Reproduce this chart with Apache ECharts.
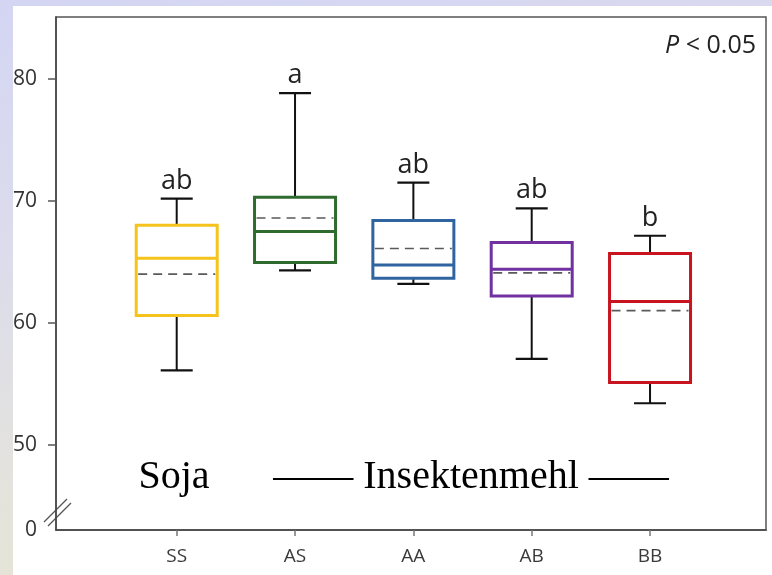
<!DOCTYPE html>
<html>
<head>
<meta charset="utf-8">
<script src="https://cdn.jsdelivr.net/npm/echarts@6/dist/echarts.min.js"></script>
<style>
  html, body { margin:0; padding:0; width:772px; height:575px; overflow:hidden; }
  #bg { position:absolute; left:0; top:0; width:772px; height:575px;
        background: linear-gradient(170deg, #d4d5f3 0%, #dcdcec 35%, #e4e3dc 70%, #e9e6cf 100%); }
  #panel { position:absolute; left:13px; top:6px; width:759px; height:569px; background:#fff; }
  #chart { position:absolute; left:0; top:0; width:772px; height:575px; }
</style>
</head>
<body>
<div id="bg"></div>
<div id="panel"></div>
<div id="chart"></div>
<script>
const categories = ['SS', 'AS', 'AA', 'AB', 'BB'];
const whiskerLow  = [56.1, 64.3, 63.2, 57.05, 53.4];
const q1          = [60.6, 64.95, 63.65, 62.2, 55.1];
const median      = [65.3, 67.5, 64.75, 64.4, 61.75];
const q3          = [68.0, 70.3, 68.4, 66.6, 65.7];
const whiskerHigh = [70.2, 78.85, 71.5, 69.4, 67.15];
const mean        = [64.0, 68.6, 66.1, 64.1, 61.0];
const letters     = ['ab', 'a', 'ab', 'ab', 'b'];
const yTickValues = [43, 50, 60, 70, 80];
const yTickLabels = ['0', '50', '60', '70', '80'];

const boxColors = ['#f6c31c', '#2f6b2f', '#2f64a0', '#7131a1', '#c8141f'];

const seriesData = categories.map((c, i) => [i + 1, whiskerLow[i], q1[i], median[i], q3[i], whiskerHigh[i], mean[i], i]);

const chart = echarts.init(document.getElementById('chart'), null, { renderer: 'canvas' });

function renderItem(params, api) {
  const x = api.value(0);
  const idx = api.value(7);
  const col = boxColors[idx];
  const pLow = api.coord([x, api.value(1)]);
  const pQ1 = api.coord([x, api.value(2)]);
  const pMed = api.coord([x, api.value(3)]);
  const pQ3 = api.coord([x, api.value(4)]);
  const pHigh = api.coord([x, api.value(5)]);
  const pMean = api.coord([x, api.value(6)]);
  const cx = pMed[0];
  const bw = 81, cw = 32;
  const children = [
    { type: 'line', shape: { x1: cx, y1: pQ3[1], x2: cx, y2: pHigh[1] }, style: { stroke: '#111', lineWidth: 2 } },
    { type: 'line', shape: { x1: cx, y1: pQ1[1], x2: cx, y2: pLow[1] }, style: { stroke: '#111', lineWidth: 2 } },
    { type: 'line', shape: { x1: cx - cw / 2, y1: pHigh[1], x2: cx + cw / 2, y2: pHigh[1] }, style: { stroke: '#111', lineWidth: 2.2 } },
    { type: 'line', shape: { x1: cx - cw / 2, y1: pLow[1], x2: cx + cw / 2, y2: pLow[1] }, style: { stroke: '#111', lineWidth: 2.2 } },
    { type: 'rect', shape: { x: cx - bw / 2, y: pQ3[1], width: bw, height: pQ1[1] - pQ3[1] }, style: { fill: '#fff', stroke: col, lineWidth: 3 } },
    { type: 'line', shape: { x1: cx - bw / 2, y1: pMed[1], x2: cx + bw / 2, y2: pMed[1] }, style: { stroke: col, lineWidth: 3 } },
    { type: 'line', shape: { x1: cx - bw / 2 + 2, y1: pMean[1], x2: cx + bw / 2 - 2, y2: pMean[1] }, style: { stroke: '#5a5a5a', lineWidth: 1.6, lineDash: [9, 6] } },
    { type: 'text', style: { text: letters[idx], x: cx, y: pHigh[1] - 4, align: 'center', verticalAlign: 'bottom', fontSize: 27, fontFamily: 'Open Sans', fill: '#222' } }
  ];
  return { type: 'group', children: children };
}

const option = {
  animation: false,
  backgroundColor: 'transparent',
  grid: { left: 56, right: 6, top: 17, bottom: 45, show: true, borderColor: '#555', borderWidth: 1.5, backgroundColor: 'transparent' },
  xAxis: {
    type: 'value', min: -0.02, max: 5.98,
    splitLine: { show: false },
    axisLine: { show: true, onZero: false, lineStyle: { color: '#444', width: 1.5 } },
    axisTick: { show: true, customValues: [1, 2, 3, 4, 5], length: 6, lineStyle: { color: '#777', width: 1.5 } },
    axisLabel: { customValues: [1, 2, 3, 4, 5], formatter: v => categories[Math.round(v) - 1] || '', margin: 17, fontSize: 19, fontFamily: 'Open Sans', color: '#3a3a3a' }
  },
  yAxis: {
    type: 'value', min: 43, max: 85.1,
    splitLine: { show: false },
    axisLine: { show: true, onZero: false, lineStyle: { color: '#444', width: 1.5 } },
    axisTick: { show: true, customValues: yTickValues.slice(1), length: 8, lineStyle: { color: '#555', width: 1.5 } },
    axisLabel: { customValues: yTickValues, formatter: v => yTickLabels[yTickValues.indexOf(v)] ?? '', margin: 19, fontSize: 21, fontFamily: 'Open Sans', color: '#333' }
  },
  series: [{
    type: 'custom',
    renderItem: renderItem,
    encode: { x: 0, y: [1, 2, 3, 4, 5, 6] },
    data: seriesData,
    clip: false
  }],
  graphic: [
    { type: 'line', shape: { x1: 44, y1: 522, x2: 67, y2: 499 }, style: { stroke: '#555', lineWidth: 1.3 } },
    { type: 'line', shape: { x1: 48, y1: 526, x2: 71, y2: 503 }, style: { stroke: '#555', lineWidth: 1.3 } },
    { type: 'text', style: { text: 'Soja', x: 174, y: 477, align: 'center', verticalAlign: 'middle', fontSize: 40, fontFamily: 'Liberation Serif', fill: '#000' } },
    { type: 'text', style: { text: '—— Insektenmehl ——', x: 471, y: 477, align: 'center', verticalAlign: 'middle', fontSize: 40, fontFamily: 'Liberation Serif', fill: '#000' } },
    { type: 'text', style: { text: '{i|P} < 0.05', x: 756, y: 46, align: 'right', verticalAlign: 'middle', fontSize: 25, fontFamily: 'Open Sans', fill: '#222',
        rich: { i: { fontStyle: 'italic', fontSize: 25, fontFamily: 'Open Sans', fill: '#222' } } } }
  ]
};
chart.setOption(option);
</script>
</body>
</html>
